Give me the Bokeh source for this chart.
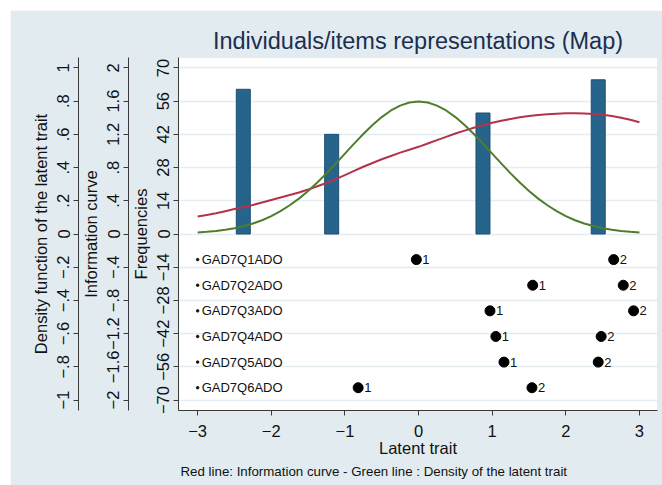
from bokeh.plotting import figure
from bokeh.models import Range1d, LinearAxis, FixedTicker, ColumnDataSource, Title
from bokeh.core.properties import value
from bokeh.embed import file_html
from bokeh.resources import INLINE

# ---- data ----
latent_x = [-3.0, -2.875, -2.75, -2.625, -2.5, -2.375, -2.25, -2.125, -2.0, -1.875, -1.75, -1.625,
            -1.5, -1.375, -1.25, -1.125, -1.0, -0.875, -0.75, -0.625, -0.5, -0.375, -0.25, -0.125,
            0.0, 0.125, 0.25, 0.375, 0.5, 0.625, 0.75, 0.875, 1.0, 1.125, 1.25, 1.375,
            1.5, 1.625, 1.75, 1.875, 2.0, 2.125, 2.25, 2.375, 2.5, 2.625, 2.75, 2.875, 3.0]
density_curve = [0.009, 0.013, 0.018, 0.025, 0.035, 0.048, 0.063, 0.083, 0.108, 0.138, 0.173, 0.213,
                 0.259, 0.310, 0.365, 0.424, 0.484, 0.544, 0.602, 0.656, 0.704, 0.744, 0.773, 0.792,
                 0.798, 0.792, 0.773, 0.744, 0.704, 0.656, 0.602, 0.544, 0.484, 0.424, 0.365, 0.310,
                 0.259, 0.213, 0.173, 0.138, 0.108, 0.083, 0.063, 0.048, 0.035, 0.025, 0.018, 0.013, 0.009]
information_curve = [0.21, 0.23, 0.25, 0.275, 0.30, 0.325, 0.35, 0.38, 0.41, 0.44, 0.47, 0.50,
                     0.535, 0.575, 0.615, 0.66, 0.71, 0.76, 0.81, 0.855, 0.90, 0.94, 0.98, 1.015,
                     1.05, 1.09, 1.13, 1.17, 1.21, 1.245, 1.28, 1.31, 1.34, 1.365, 1.385, 1.405,
                     1.42, 1.432, 1.442, 1.449, 1.453, 1.454, 1.452, 1.445, 1.435, 1.42, 1.40, 1.375, 1.345]

bar_x = [-2.38, -1.18, 0.875, 2.44]
bar_freq = [61, 42, 51, 65]

items = ["GAD7Q1ADO", "GAD7Q2ADO", "GAD7Q3ADO", "GAD7Q4ADO", "GAD7Q5ADO", "GAD7Q6ADO"]
item_row = [-10.8, -21.6, -32.4, -43.2, -54.0, -64.8]
threshold1 = [-0.03, 1.55, 0.97, 1.05, 1.16, -0.82]
threshold2 = [2.65, 2.78, 2.92, 2.48, 2.44, 1.54]

freq_ticks = [-70, -56, -42, -28, -14, 0, 14, 28, 42, 56, 70]
info_ticks = [-2, -1.6, -1.2, -0.8, -0.4, 0, 0.4, 0.8, 1.2, 1.6, 2]
dens_ticks = [-1, -0.8, -0.6, -0.4, -0.2, 0, 0.2, 0.4, 0.6, 0.8, 1]
x_ticks = [-3, -2, -1, 0, 1, 2, 3]


def stata_fmt(v):
    s = ("%g" % v)
    neg = s.startswith("-")
    s = s.lstrip("-")
    if s.startswith("0."):
        s = s[1:]
    return ("\u2212" if neg else "") + s


FONT = "Liberation Sans"
BG = "#e2ecf0"
GRID = "#e3ecf0"
AXC = "#3a3a3a"

YMAX = 74.4
p = figure(width=652, height=475, x_range=Range1d(-3.26, 3.245), y_range=Range1d(-YMAX, YMAX),
           output_backend="svg", toolbar_location=None,
           min_border_left=168, min_border_right=5, min_border_top=47, min_border_bottom=75,
           background_fill_color="white", border_fill_color=BG)
p.styles = {"margin-left": "10px", "margin-top": "10px"}
p.outline_line_color = GRID
p.extra_y_ranges = {"info": Range1d(-YMAX / 35.0, YMAX / 35.0),
                    "dens": Range1d(-YMAX / 70.0, YMAX / 70.0)}

p.title.text = "Individuals/items representations (Map)"
p.title.text_font = FONT
p.title.text_font_size = "23.5px"
p.title.text_font_style = "normal"
p.title.text_color = "#1c2e50"
p.title.align = "center"
p.title.standoff = 8


def style_axis(ax, title, ticks):
    ax.axis_label = title
    ax.axis_label_text_font = FONT
    ax.axis_label_text_font_size = "16.5px"
    ax.axis_label_text_font_style = "normal"
    ax.axis_label_text_color = "#111111"
    ax.major_label_text_font = FONT
    ax.major_label_text_font_size = "16.5px"
    ax.major_label_text_color = "#111111"
    ax.ticker = FixedTicker(ticks=ticks)
    ax.major_label_overrides = {t: stata_fmt(t) for t in ticks}
    ax.axis_line_color = AXC
    ax.major_tick_line_color = AXC
    ax.major_tick_out = 5
    ax.major_tick_in = 0
    ax.minor_tick_line_color = None


# frequency axis (primary)
yax = p.yaxis[0]
style_axis(yax, "Frequencies", freq_ticks)
yax.major_label_orientation = "parallel"
yax.major_label_standoff = 4
yax.axis_label_standoff = 5

info_ax = LinearAxis(y_range_name="info")
style_axis(info_ax, "Information curve", info_ticks)
info_ax.major_label_orientation = "parallel"
info_ax.major_label_standoff = 4
info_ax.axis_label_standoff = 5
p.add_layout(info_ax, "left")

dens_ax = LinearAxis(y_range_name="dens")
style_axis(dens_ax, "Density function of the latent trait", dens_ticks)
dens_ax.major_label_orientation = "parallel"
dens_ax.major_label_standoff = 4
dens_ax.axis_label_standoff = 5
p.add_layout(dens_ax, "left")

xax = p.xaxis[0]
style_axis(xax, "Latent trait", x_ticks)
xax.major_label_standoff = 9
xax.axis_label_standoff = -1

p.xgrid.grid_line_color = None
p.ygrid.ticker = FixedTicker(ticks=freq_ticks)
p.ygrid.grid_line_color = GRID
p.ygrid.grid_line_width = 1.5

# bars (frequencies)
p.vbar(x=bar_x, top=bar_freq, bottom=0, width=0.19,
       fill_color="#26648c", line_color="#1d4f72", line_width=1)

# curves
curve_src = ColumnDataSource(dict(x=latent_x, dens=density_curve, info=information_curve))
p.line("x", "info", source=curve_src, y_range_name="info", line_color="#b3344a", line_width=2)
p.line("x", "dens", source=curve_src, y_range_name="dens", line_color="#4f7d2c", line_width=2)

# item map
item_src = ColumnDataSource(dict(
    x0=[-3.0] * len(items), y=item_row, name=items,
    t1=threshold1, t2=threshold2,
    l1=["1"] * len(items), l2=["2"] * len(items)))
p.scatter("x0", "y", source=item_src, size=2.5, color="#111111")
p.text("x0", "y", text="name", source=item_src, x_offset=4, text_baseline="middle",
       text_font=value(FONT), text_font_size="13px", text_color="#111111")
p.scatter("t1", "y", source=item_src, size=10, color="black")
p.scatter("t2", "y", source=item_src, size=10, color="black")
p.text("t1", "y", text="l1", source=item_src, x_offset=6, text_baseline="middle",
       text_font=value(FONT), text_font_size="13px", text_color="#111111")
p.text("t2", "y", text="l2", source=item_src, x_offset=6, text_baseline="middle",
       text_font=value(FONT), text_font_size="13px", text_color="#111111")

note = Title(text="Red line: Information curve - Green line : Density of the latent trait",
             align="left", offset=2, standoff=4,
             text_font=FONT, text_font_size="13.3px", text_font_style="normal",
             text_color="#111111")
p.add_layout(note, "below")

open("out.html", "w").write(file_html(p, INLINE))
